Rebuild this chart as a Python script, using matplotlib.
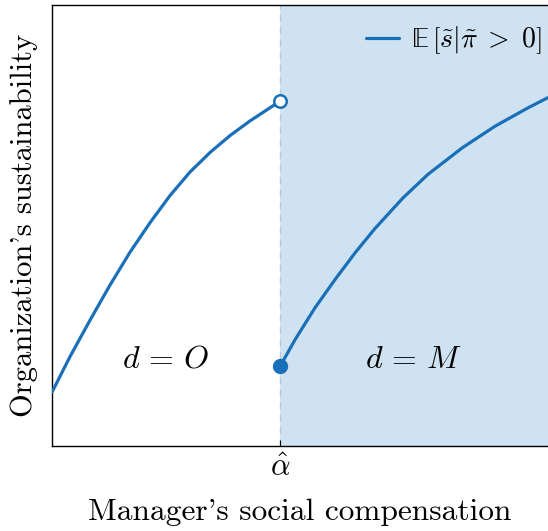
import matplotlib
matplotlib.use("Agg")
import matplotlib.pyplot as plt

plt.rcParams['font.family'] = 'serif'
plt.rcParams['font.serif'] = ['cmr10']
plt.rcParams['mathtext.fontset'] = 'cm'
plt.rcParams['axes.formatter.use_mathtext'] = True

# threshold
alpha_hat = 0.46

# left branch (d = O)
x_left = [0.0, 0.036, 0.077, 0.117, 0.157, 0.198, 0.238, 0.278, 0.319, 0.359, 0.399, 0.46]
y_left = [0.122, 0.202, 0.286, 0.365, 0.439, 0.507, 0.568, 0.621, 0.666, 0.704, 0.737, 0.782]

# right branch (d = M)
x_right = [0.46, 0.490, 0.530, 0.571, 0.611, 0.651, 0.708, 0.758, 0.827, 0.893, 0.960, 1.0]
y_right = [0.181, 0.241, 0.313, 0.378, 0.438, 0.493, 0.563, 0.616, 0.676, 0.725, 0.767, 0.790]

tick_labels = [r'$\hat{\alpha}$']
region_labels = [r'$d\,=\,O$', r'$d\,=\,M$']
legend_label = '$\U0001D53C\\,\\left[\\tilde{s}|\\tilde{\\pi}\\;>\\;0\\right]$'

blue = '#1a70b8'
shade = '#cfe2f2'

fig = plt.figure(figsize=(5.48, 5.31), dpi=100)
ax = fig.add_axes([52/548, 85/531, 496/548, 441/531])

ax.axvspan(alpha_hat, 1.0, color=shade, lw=0, zorder=0)
ax.axvline(alpha_hat, color='#b8c8d8', lw=1.0, ls=(0, (5, 4)), zorder=1)

ax.plot(x_left, y_left, color=blue, lw=2.3, solid_capstyle='round',
        solid_joinstyle='round', label=legend_label, zorder=3)
ax.plot(x_right, y_right, color=blue, lw=2.3, solid_capstyle='round',
        solid_joinstyle='round', zorder=3)
ax.plot([x_left[-1]], [y_left[-1]], 'o', ms=9, mfc='white', mec=blue, mew=1.8, zorder=4)
ax.plot([x_right[0]], [y_right[0]], 'o', ms=10, mfc=blue, mec=blue, zorder=4)

ax.text(0.23, 0.195, region_labels[0], fontsize=23, ha='center', va='center')
ax.text(0.73, 0.195, region_labels[1], fontsize=23, ha='center', va='center')

ax.set_xlim(0, 1)
ax.set_ylim(0, 1)
ax.set_xticks([alpha_hat])
ax.set_xticklabels(tick_labels, fontsize=22)
ax.set_yticks([])
ax.tick_params(axis='x', direction='in', length=4, pad=6)
ax.spines['right'].set_visible(False)
for s in ['left', 'bottom', 'top']:
    ax.spines[s].set_linewidth(1.0)

ax.set_xlabel("Manager's social compensation", fontsize=22.6, labelpad=12)
ax.set_ylabel("Organization's sustainability", fontsize=22, labelpad=10)

ax.legend(loc='upper right', bbox_to_anchor=(1.025, 1.0), frameon=False, fontsize=20,
          handlelength=1.2, borderaxespad=0.3, handletextpad=0.4)

fig.savefig('out.png', dpi=100)
